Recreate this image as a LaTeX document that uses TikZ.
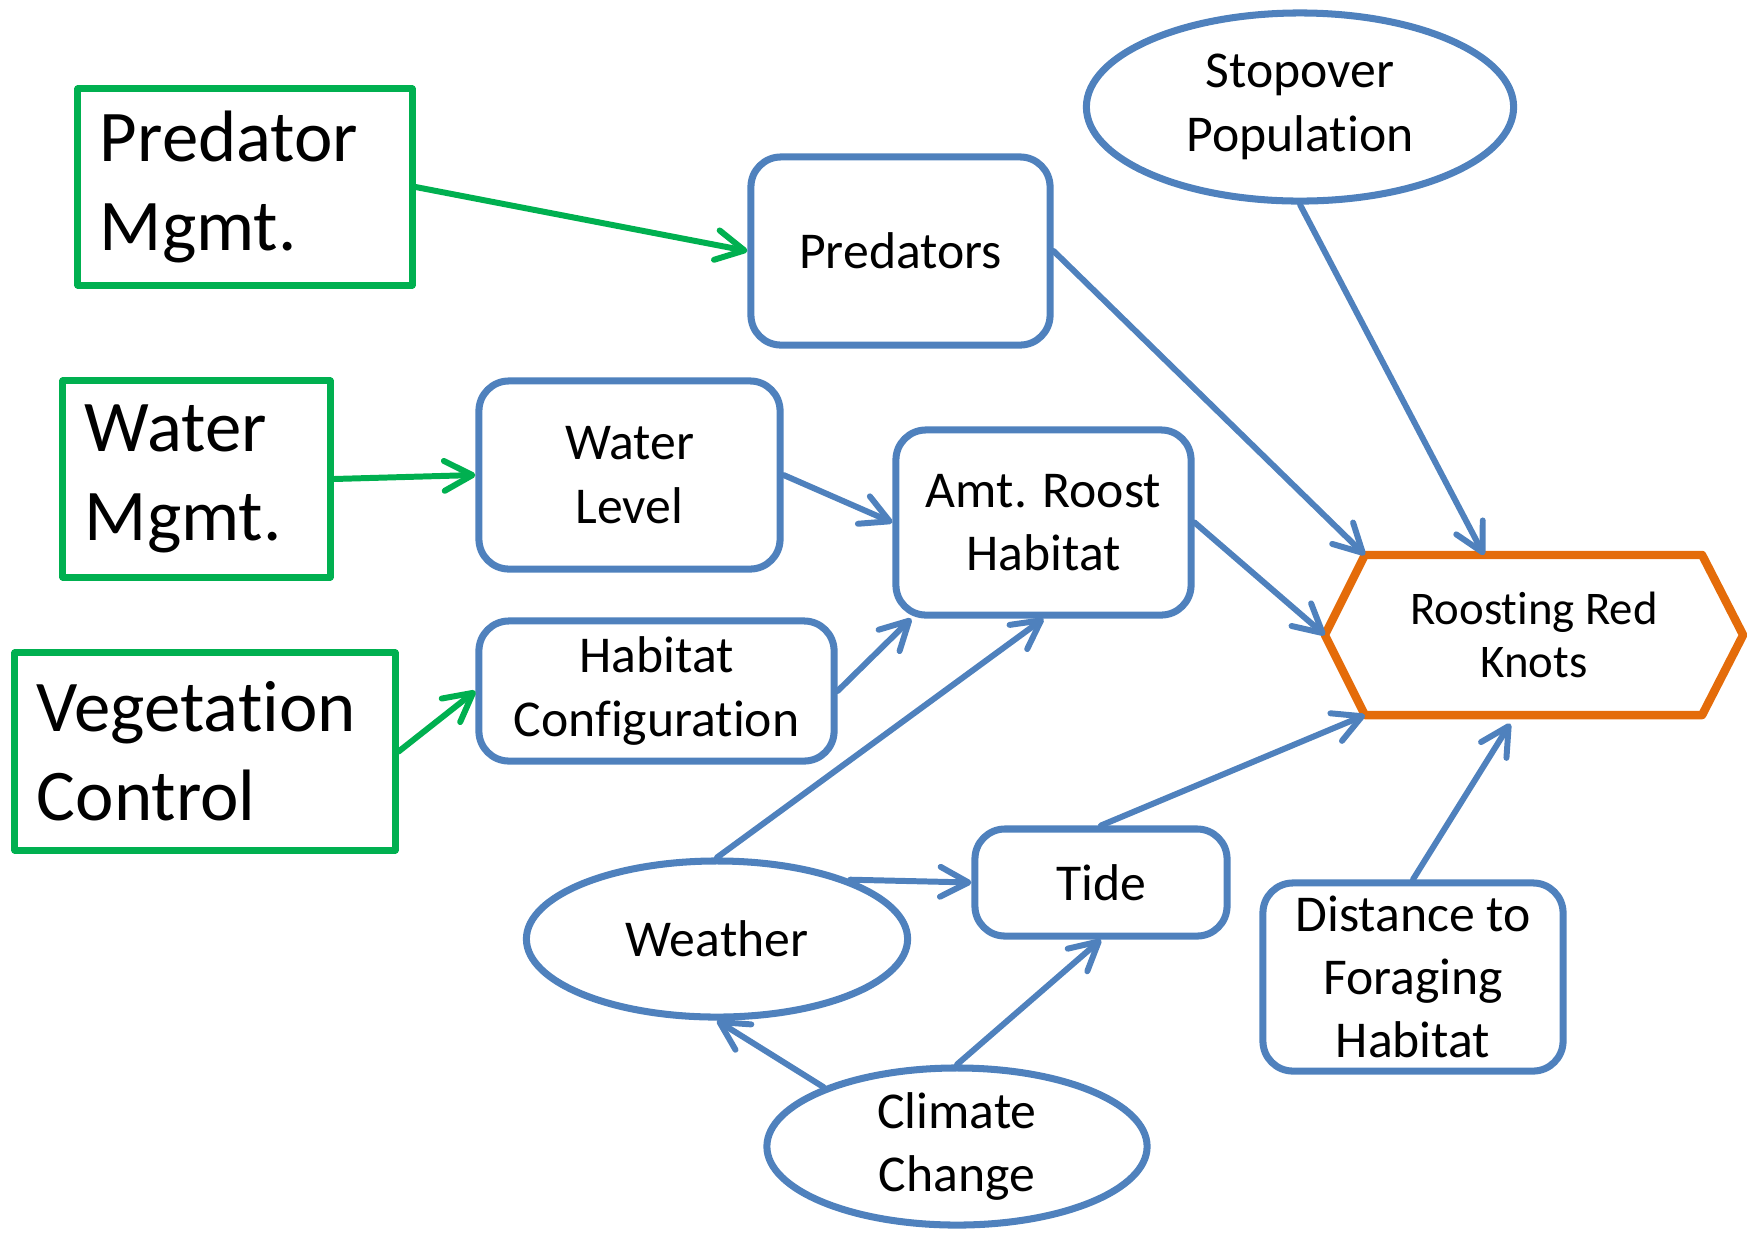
\documentclass[tikz,border=0pt]{standalone}
\usepackage{fontspec}
\setmainfont[Ligatures={NoCommon}]{Carlito}
\usetikzlibrary{shapes.geometric,arrows.meta}

\definecolor{mgmtgreen}{HTML}{00B050}
\definecolor{nodeblue}{HTML}{4F81BD}
\definecolor{knotorange}{HTML}{E46C0A}

\newcommand{\mgmtfont}{\fontsize{20.7}{25.3}\selectfont}
\newcommand{\boxfont}{\fontsize{14.7}{18}\selectfont}
\newcommand{\knotfont}{\fontsize{13.3}{14.9}\selectfont}
\newcommand{\nolig}{\kern0pt}

\begin{document}
\begin{tikzpicture}[x=0.01cm,y=-0.01cm,
  mgmt/.style={draw=mgmtgreen,line width=2pt,line join=round,inner xsep=0.22cm,inner ysep=0pt,align=left,font=\mgmtfont},
  factor/.style={draw=nodeblue,line width=2pt,rounded corners=0.3cm,align=center,font=\boxfont,inner sep=0pt},
  oval/.style={draw=nodeblue,ellipse,line width=2pt,align=center,font=\boxfont,inner sep=0pt},
  link/.style={draw=nodeblue,line width=1.7pt,line cap=round,-{Straight Barb[length=8pt,width=8.5pt,round]}},
  mlink/.style={link,draw=mgmtgreen}]

\useasboundingbox (0,0) rectangle (1748,1232);

% management actions
\node (pm) at (245,187) [mgmt,text width=2.9cm,minimum height=1.96cm] {Predator\\Mgmt.};
\node (wm) at (196.5,479) [mgmt,text width=2.23cm,minimum height=1.96cm] {Water\\Mgmt.};
\node (vc) at (205,751.5) [mgmt,text width=3.36cm,minimum height=1.97cm] {Vegetat\nolig ion\\Control};

% factors
\node (pred) at (900.5,251) [factor,minimum width=2.99cm,minimum height=1.88cm] {Predators};
\node (wl) at (629.5,475) [factor,minimum width=3.01cm,minimum height=1.88cm] {Water\\Level};
\node (amt) at (1043.5,522.5) [factor,minimum width=2.95cm,minimum height=1.85cm] {Amt. Roost\\Habitat};
\node (hc) at (656.5,691) [factor,minimum width=3.55cm,minimum height=1.40cm] {Habitat\\Conf\nolig igurat\nolig ion};
\node (tide) at (1101,882.5) [factor,minimum width=2.52cm,minimum height=1.07cm] {Tide};
\node (dist) at (1413,977) [factor,minimum width=3.0cm,minimum height=1.88cm] {Distance to\\Foraging\\Habitat};

\node (stop) at (1300,107) [oval,minimum width=4.27cm,minimum height=1.88cm] {Stopover\\Populat\nolig ion};
\node (weather) at (717,939) [oval,minimum width=3.81cm,minimum height=1.56cm] {Weather};
\node (climate) at (957,1146.5) [oval,minimum width=3.8cm,minimum height=1.57cm] {Climate\\Change};

% outcome
\node (rk) at (1534,635) [minimum width=4.18cm,minimum height=1.6cm,inner sep=0pt,outer sep=0pt,align=center,font=\knotfont] {Roost\nolig ing Red\\Knots};
\coordinate (rk-nw) at ([xshift=0.4cm]rk.north west);
\coordinate (rk-ne) at ([xshift=-0.41cm]rk.north east);
\coordinate (rk-sw) at ([xshift=0.4cm]rk.south west);
\coordinate (rk-se) at ([xshift=-0.41cm]rk.south east);
\draw[knotorange,line width=2.4pt,line join=round] (rk.west) -- (rk-nw) -- (rk-ne) -- (rk.east) -- (rk-se) -- (rk-sw) -- cycle;

\draw[mlink] (pm.east) -- (pred.west);
\draw[mlink] (wm.east) -- (wl.west);
\draw[mlink] (vc.east) -- (hc.west);

\draw[link] (wl.east) -- (amt.west);
\draw[link] (hc.east) -- (amt.216);
\draw[link] (weather.north) -- (amt.south);
\draw[link] (pred.east) -- (rk-nw);
\draw[link] (stop.south) -- (rk.122);
\draw[link] (amt.east) -- (rk.west);
\draw[link] (tide.north) -- (rk-sw);
\draw[link,shorten >=0.1cm] (dist.north) -- (rk.257);
\draw[link] (weather.24) -- (tide.west);
\draw[link] (climate.156) -- (weather.south);
\draw[link] (climate.north) -- (tide.south);

\end{tikzpicture}
\end{document}
